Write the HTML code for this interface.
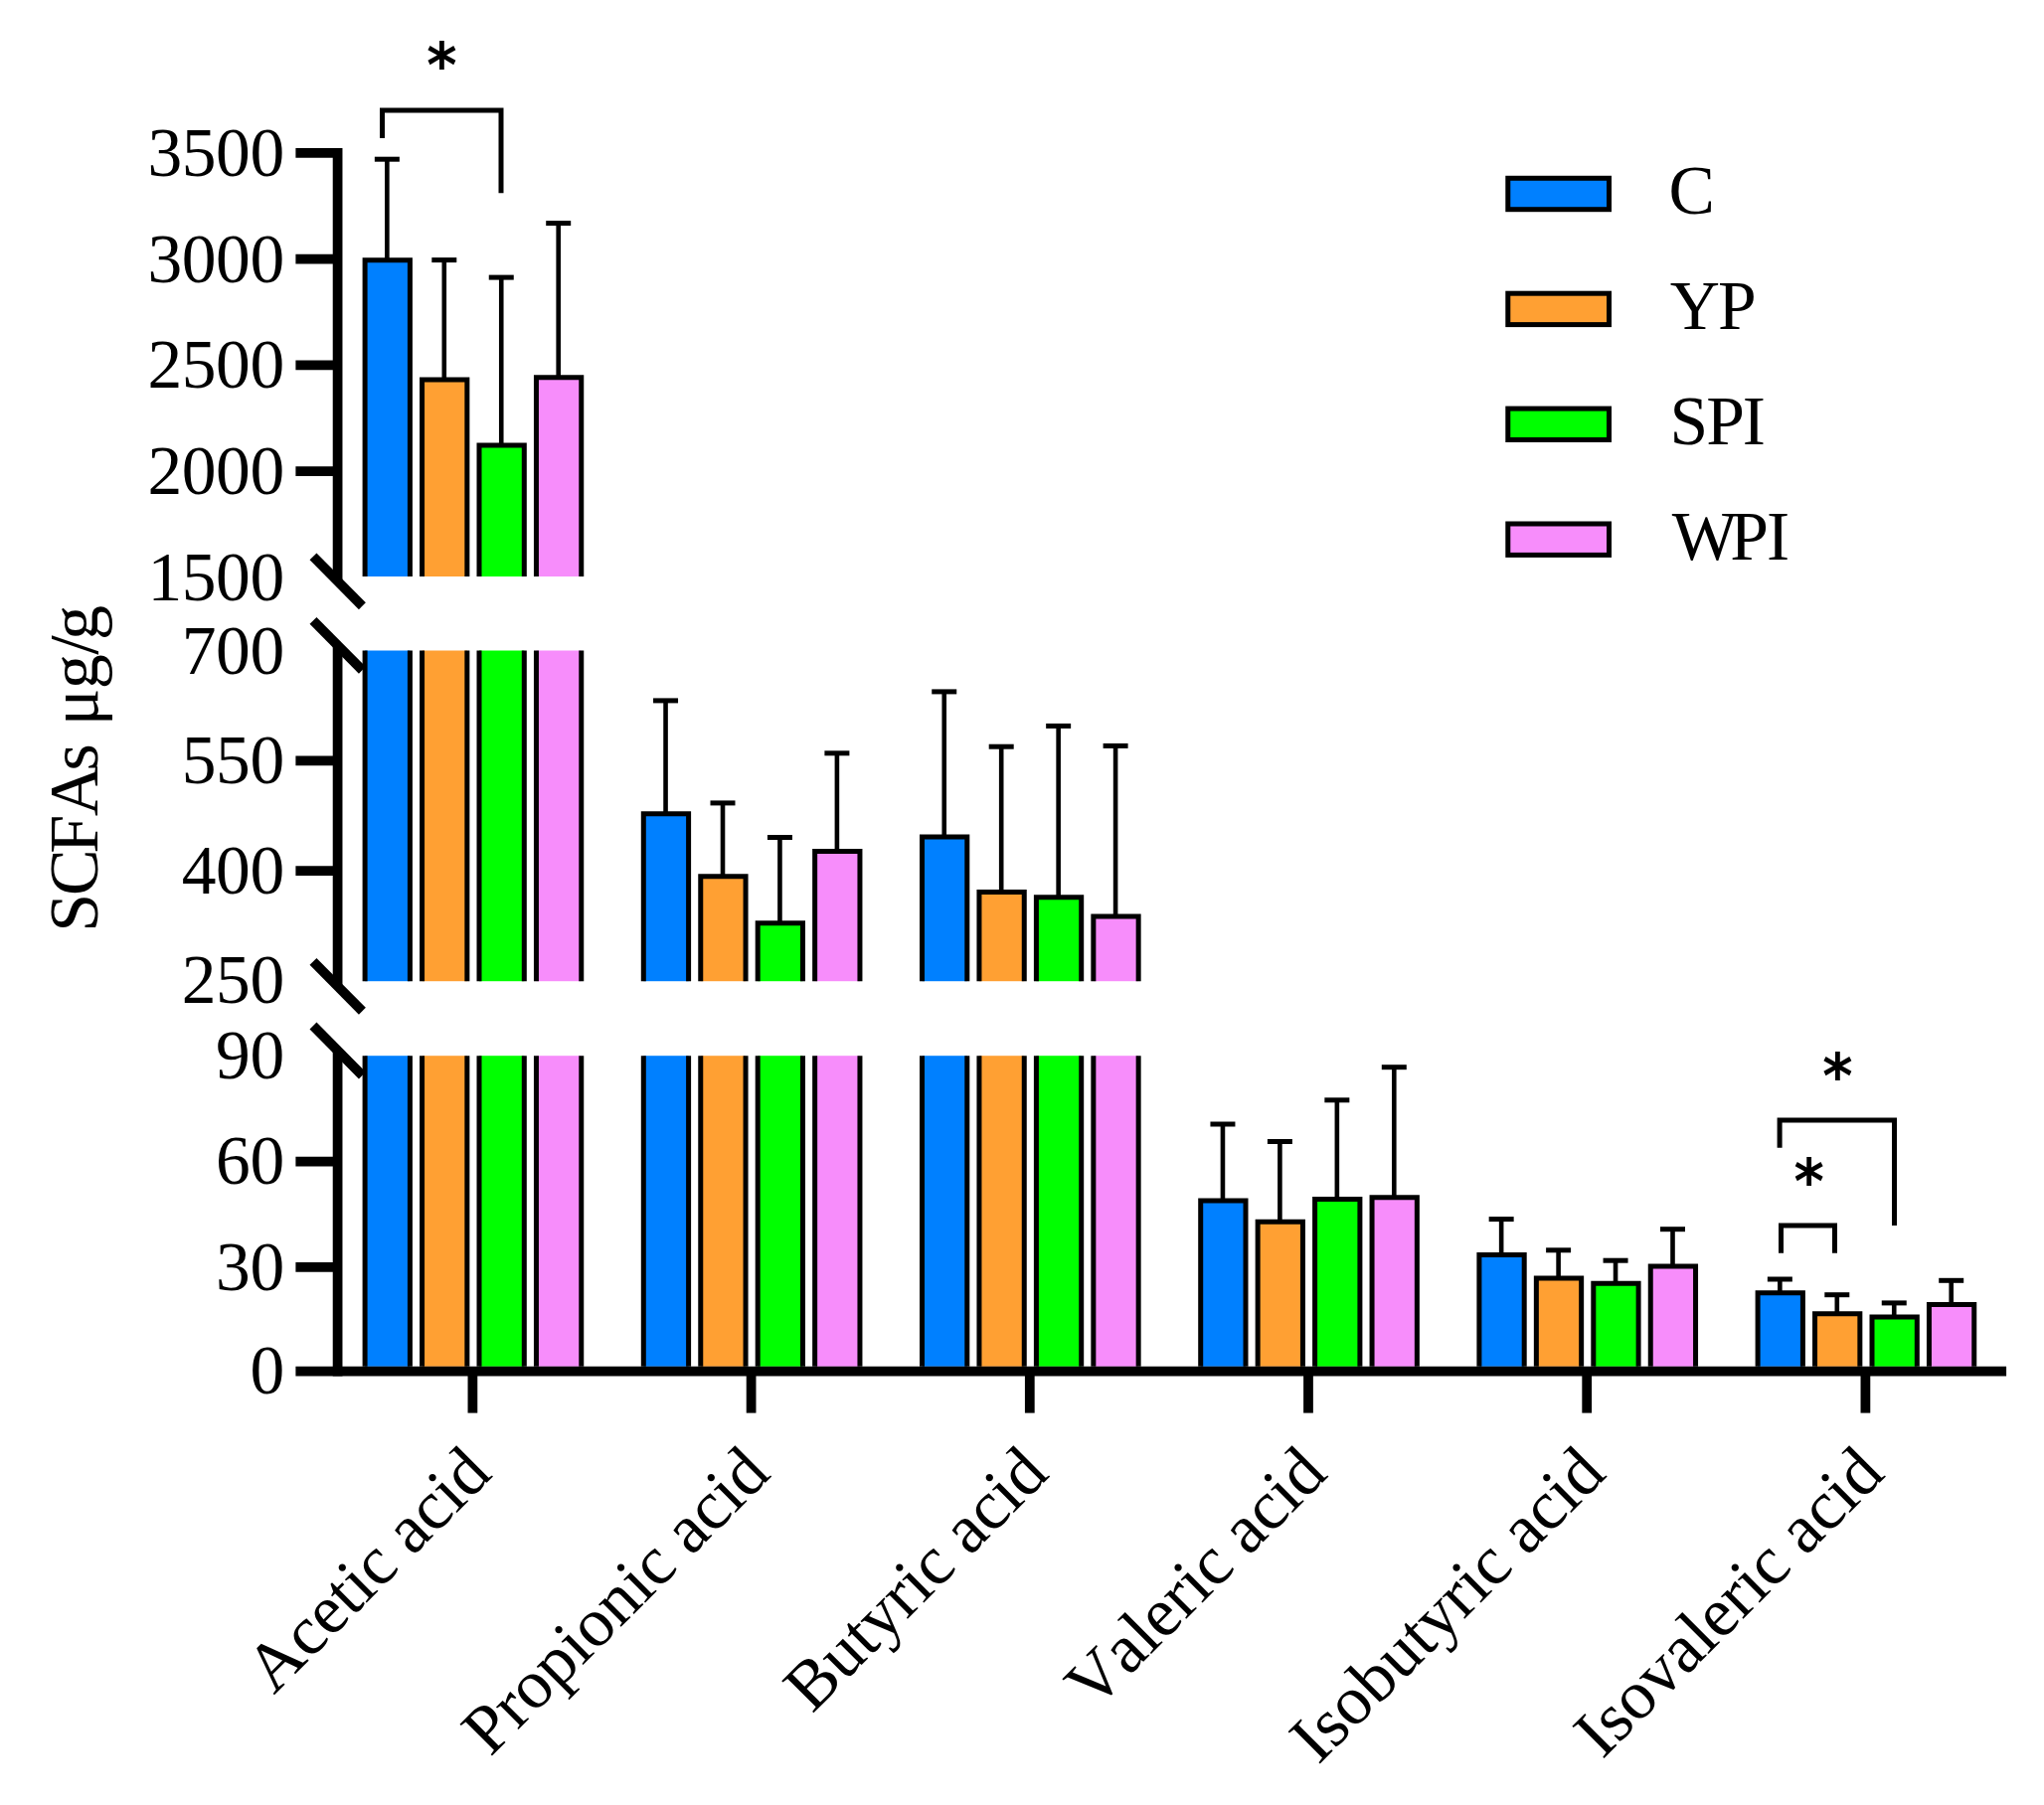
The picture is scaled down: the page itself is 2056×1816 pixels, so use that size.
<!DOCTYPE html>
<html lang="en"><head><meta charset="utf-8"><title>SCFAs chart</title>
<style>
html,body{margin:0;padding:0;background:#fff}
body{width:2056px;height:1816px;overflow:hidden}
svg{display:block}
text{white-space:pre;font-kerning:none;font-variant-ligatures:none}
</style></head><body>
<svg width="2056" height="1816" viewBox="0 0 2056 1816">
<rect width="2056" height="1816" fill="#fff"/>
<g id="bars" stroke="#000" stroke-width="5" stroke-linejoin="miter" fill="none">
<path d="M389.35 160.2 V261.7" stroke-width="4.6"/>
<path d="M376.85 160.2 H401.85" stroke-width="5"/>
<rect x="367.1" y="261.7" width="45.3" height="318.3" fill="#0080ff" stroke="none"/>
<path d="M367.1 580 V261.7 H412.4 V580"/>
<rect x="367.1" y="654.5" width="45.3" height="332.7" fill="#0080ff" stroke="none"/>
<path d="M367.1 654.5 V987.2 M412.4 654.5 V987.2"/>
<rect x="367.1" y="1062.2" width="45.3" height="312.6" fill="#0080ff" stroke="none"/>
<path d="M367.1 1062.2 V1374.8 M412.4 1062.2 V1374.8"/>
<path d="M446.8 261.6 V382.1" stroke-width="4.6"/>
<path d="M434.3 261.6 H459.3" stroke-width="5"/>
<rect x="424.55" y="382.1" width="45.3" height="197.9" fill="#ffa033" stroke="none"/>
<path d="M424.55 580 V382.1 H469.85 V580"/>
<rect x="424.55" y="654.5" width="45.3" height="332.7" fill="#ffa033" stroke="none"/>
<path d="M424.55 654.5 V987.2 M469.85 654.5 V987.2"/>
<rect x="424.55" y="1062.2" width="45.3" height="312.6" fill="#ffa033" stroke="none"/>
<path d="M424.55 1062.2 V1374.8 M469.85 1062.2 V1374.8"/>
<path d="M504.25 279.1 V448" stroke-width="4.6"/>
<path d="M491.75 279.1 H516.75" stroke-width="5"/>
<rect x="482" y="448" width="45.3" height="132" fill="#00ff00" stroke="none"/>
<path d="M482 580 V448 H527.3 V580"/>
<rect x="482" y="654.5" width="45.3" height="332.7" fill="#00ff00" stroke="none"/>
<path d="M482 654.5 V987.2 M527.3 654.5 V987.2"/>
<rect x="482" y="1062.2" width="45.3" height="312.6" fill="#00ff00" stroke="none"/>
<path d="M482 1062.2 V1374.8 M527.3 1062.2 V1374.8"/>
<path d="M561.7 224.6 V379.7" stroke-width="4.6"/>
<path d="M549.2 224.6 H574.2" stroke-width="5"/>
<rect x="539.45" y="379.7" width="45.3" height="200.3" fill="#f78dfb" stroke="none"/>
<path d="M539.45 580 V379.7 H584.75 V580"/>
<rect x="539.45" y="654.5" width="45.3" height="332.7" fill="#f78dfb" stroke="none"/>
<path d="M539.45 654.5 V987.2 M584.75 654.5 V987.2"/>
<rect x="539.45" y="1062.2" width="45.3" height="312.6" fill="#f78dfb" stroke="none"/>
<path d="M539.45 1062.2 V1374.8 M584.75 1062.2 V1374.8"/>
<path d="M669.55 704.9 V818.7" stroke-width="4.6"/>
<path d="M657.05 704.9 H682.05" stroke-width="5"/>
<rect x="647.3" y="818.7" width="45.3" height="168.5" fill="#0080ff" stroke="none"/>
<path d="M647.3 987.2 V818.7 H692.6 V987.2"/>
<rect x="647.3" y="1062.2" width="45.3" height="312.6" fill="#0080ff" stroke="none"/>
<path d="M647.3 1062.2 V1374.8 M692.6 1062.2 V1374.8"/>
<path d="M727 807.9 V881.7" stroke-width="4.6"/>
<path d="M714.5 807.9 H739.5" stroke-width="5"/>
<rect x="704.75" y="881.7" width="45.3" height="105.5" fill="#ffa033" stroke="none"/>
<path d="M704.75 987.2 V881.7 H750.05 V987.2"/>
<rect x="704.75" y="1062.2" width="45.3" height="312.6" fill="#ffa033" stroke="none"/>
<path d="M704.75 1062.2 V1374.8 M750.05 1062.2 V1374.8"/>
<path d="M784.45 842.5 V928.8" stroke-width="4.6"/>
<path d="M771.95 842.5 H796.95" stroke-width="5"/>
<rect x="762.2" y="928.8" width="45.3" height="58.4" fill="#00ff00" stroke="none"/>
<path d="M762.2 987.2 V928.8 H807.5 V987.2"/>
<rect x="762.2" y="1062.2" width="45.3" height="312.6" fill="#00ff00" stroke="none"/>
<path d="M762.2 1062.2 V1374.8 M807.5 1062.2 V1374.8"/>
<path d="M841.9 757.8 V856.5" stroke-width="4.6"/>
<path d="M829.4 757.8 H854.4" stroke-width="5"/>
<rect x="819.65" y="856.5" width="45.3" height="130.7" fill="#f78dfb" stroke="none"/>
<path d="M819.65 987.2 V856.5 H864.95 V987.2"/>
<rect x="819.65" y="1062.2" width="45.3" height="312.6" fill="#f78dfb" stroke="none"/>
<path d="M819.65 1062.2 V1374.8 M864.95 1062.2 V1374.8"/>
<path d="M949.75 695.9 V842" stroke-width="4.6"/>
<path d="M937.25 695.9 H962.25" stroke-width="5"/>
<rect x="927.5" y="842" width="45.3" height="145.2" fill="#0080ff" stroke="none"/>
<path d="M927.5 987.2 V842 H972.8 V987.2"/>
<rect x="927.5" y="1062.2" width="45.3" height="312.6" fill="#0080ff" stroke="none"/>
<path d="M927.5 1062.2 V1374.8 M972.8 1062.2 V1374.8"/>
<path d="M1007.2 751.2 V897.5" stroke-width="4.6"/>
<path d="M994.7 751.2 H1019.7" stroke-width="5"/>
<rect x="984.95" y="897.5" width="45.3" height="89.7" fill="#ffa033" stroke="none"/>
<path d="M984.95 987.2 V897.5 H1030.25 V987.2"/>
<rect x="984.95" y="1062.2" width="45.3" height="312.6" fill="#ffa033" stroke="none"/>
<path d="M984.95 1062.2 V1374.8 M1030.25 1062.2 V1374.8"/>
<path d="M1064.65 730.4 V902.8" stroke-width="4.6"/>
<path d="M1052.15 730.4 H1077.15" stroke-width="5"/>
<rect x="1042.4" y="902.8" width="45.3" height="84.4" fill="#00ff00" stroke="none"/>
<path d="M1042.4 987.2 V902.8 H1087.7 V987.2"/>
<rect x="1042.4" y="1062.2" width="45.3" height="312.6" fill="#00ff00" stroke="none"/>
<path d="M1042.4 1062.2 V1374.8 M1087.7 1062.2 V1374.8"/>
<path d="M1122.1 750.4 V922" stroke-width="4.6"/>
<path d="M1109.6 750.4 H1134.6" stroke-width="5"/>
<rect x="1099.85" y="922" width="45.3" height="65.2" fill="#f78dfb" stroke="none"/>
<path d="M1099.85 987.2 V922 H1145.15 V987.2"/>
<rect x="1099.85" y="1062.2" width="45.3" height="312.6" fill="#f78dfb" stroke="none"/>
<path d="M1099.85 1062.2 V1374.8 M1145.15 1062.2 V1374.8"/>
<path d="M1229.95 1131 V1208" stroke-width="4.6"/>
<path d="M1217.45 1131 H1242.45" stroke-width="5"/>
<rect x="1207.7" y="1208" width="45.3" height="166.8" fill="#0080ff" stroke="none"/>
<path d="M1207.7 1374.8 V1208 H1253 V1374.8"/>
<path d="M1287.4 1148.5 V1229.3" stroke-width="4.6"/>
<path d="M1274.9 1148.5 H1299.9" stroke-width="5"/>
<rect x="1265.15" y="1229.3" width="45.3" height="145.5" fill="#ffa033" stroke="none"/>
<path d="M1265.15 1374.8 V1229.3 H1310.45 V1374.8"/>
<path d="M1344.85 1106.8 V1206.6" stroke-width="4.6"/>
<path d="M1332.35 1106.8 H1357.35" stroke-width="5"/>
<rect x="1322.6" y="1206.6" width="45.3" height="168.2" fill="#00ff00" stroke="none"/>
<path d="M1322.6 1374.8 V1206.6 H1367.9 V1374.8"/>
<path d="M1402.3 1073.7 V1204.7" stroke-width="4.6"/>
<path d="M1389.8 1073.7 H1414.8" stroke-width="5"/>
<rect x="1380.05" y="1204.7" width="45.3" height="170.1" fill="#f78dfb" stroke="none"/>
<path d="M1380.05 1374.8 V1204.7 H1425.35 V1374.8"/>
<path d="M1510.15 1226.6 V1262.5" stroke-width="4.6"/>
<path d="M1497.65 1226.6 H1522.65" stroke-width="5"/>
<rect x="1487.9" y="1262.5" width="45.3" height="112.3" fill="#0080ff" stroke="none"/>
<path d="M1487.9 1374.8 V1262.5 H1533.2 V1374.8"/>
<path d="M1567.6 1257.8 V1286.1" stroke-width="4.6"/>
<path d="M1555.1 1257.8 H1580.1" stroke-width="5"/>
<rect x="1545.35" y="1286.1" width="45.3" height="88.7" fill="#ffa033" stroke="none"/>
<path d="M1545.35 1374.8 V1286.1 H1590.65 V1374.8"/>
<path d="M1625.05 1268.2 V1291.3" stroke-width="4.6"/>
<path d="M1612.55 1268.2 H1637.55" stroke-width="5"/>
<rect x="1602.8" y="1291.3" width="45.3" height="83.5" fill="#00ff00" stroke="none"/>
<path d="M1602.8 1374.8 V1291.3 H1648.1 V1374.8"/>
<path d="M1682.5 1236.7 V1274" stroke-width="4.6"/>
<path d="M1670 1236.7 H1695" stroke-width="5"/>
<rect x="1660.25" y="1274" width="45.3" height="100.8" fill="#f78dfb" stroke="none"/>
<path d="M1660.25 1374.8 V1274 H1705.55 V1374.8"/>
<path d="M1790.35 1287 V1300.8" stroke-width="4.6"/>
<path d="M1777.85 1287 H1802.85" stroke-width="5"/>
<rect x="1768.1" y="1300.8" width="45.3" height="74" fill="#0080ff" stroke="none"/>
<path d="M1768.1 1374.8 V1300.8 H1813.4 V1374.8"/>
<path d="M1847.8 1302.7 V1321.8" stroke-width="4.6"/>
<path d="M1835.3 1302.7 H1860.3" stroke-width="5"/>
<rect x="1825.55" y="1321.8" width="45.3" height="53" fill="#ffa033" stroke="none"/>
<path d="M1825.55 1374.8 V1321.8 H1870.85 V1374.8"/>
<path d="M1905.25 1310.9 V1325.1" stroke-width="4.6"/>
<path d="M1892.75 1310.9 H1917.75" stroke-width="5"/>
<rect x="1883" y="1325.1" width="45.3" height="49.7" fill="#00ff00" stroke="none"/>
<path d="M1883 1374.8 V1325.1 H1928.3 V1374.8"/>
<path d="M1962.7 1288.3 V1312.5" stroke-width="4.6"/>
<path d="M1950.2 1288.3 H1975.2" stroke-width="5"/>
<rect x="1940.45" y="1312.5" width="45.3" height="62.3" fill="#f78dfb" stroke="none"/>
<path d="M1940.45 1374.8 V1312.5 H1985.75 V1374.8"/>
</g>
<g id="axes" stroke="#000" stroke-width="9.75" fill="none" stroke-linecap="butt">
<path d="M339.6 149.03 V584.85"/>
<path d="M339.6 649.35 V992.35"/>
<path d="M339.6 1057 V1384.38"/>
<path d="M297.4 153.9 H339.6"/>
<path d="M297.4 260.7 H339.6"/>
<path d="M297.4 367.4 H339.6"/>
<path d="M297.4 474.1 H339.6"/>
<path d="M297.4 765.4 H339.6"/>
<path d="M297.4 876 H339.6"/>
<path d="M297.4 1168.5 H339.6"/>
<path d="M297.4 1274.8 H339.6"/>
<path d="M297.4 1379.5 H2018.1"/>
<path d="M475.4 1379.5 V1421.6"/>
<path d="M755.6 1379.5 V1421.6"/>
<path d="M1035.8 1379.5 V1421.6"/>
<path d="M1316 1379.5 V1421.6"/>
<path d="M1596.2 1379.5 V1421.6"/>
<path d="M1876.4 1379.5 V1421.6"/>
<path d="M315 559.9 L364.4 609.8"/>
<path d="M315 624.4 L364.4 674.3"/>
<path d="M315 967.4 L364.4 1017.3"/>
<path d="M315 1032.05 L364.4 1081.95"/>
</g>
<g id="brackets" stroke="#000" stroke-width="5" fill="none" stroke-linejoin="miter">
<path d="M384.5 138.9 V111 H504 V194.3"/>
<path d="M1790.1 1154.8 V1127 H1905.5 V1232.9"/>
<path d="M1791.5 1260.8 V1233 H1845.5 V1260.8"/>
</g>
<g id="ylabels" font-family="'Liberation Serif', 'Times New Roman', serif" font-size="69.5" fill="#000" text-anchor="end">
<text x="285.8" y="176.7" letter-spacing="-0.4">3500</text>
<text x="285.8" y="283.5" letter-spacing="-0.4">3000</text>
<text x="285.8" y="390.2" letter-spacing="-0.4">2500</text>
<text x="285.8" y="496.9" letter-spacing="-0.4">2000</text>
<text x="285.8" y="603.6" letter-spacing="-0.4">1500</text>
<text x="285.8" y="677.6" letter-spacing="-0.4">700</text>
<text x="285.8" y="788.2" letter-spacing="-0.4">550</text>
<text x="285.8" y="898.8" letter-spacing="-0.4">400</text>
<text x="285.8" y="1009.4" letter-spacing="-0.4">250</text>
<text x="285.8" y="1085" letter-spacing="-0.4">90</text>
<text x="285.8" y="1191.3" letter-spacing="-0.4">60</text>
<text x="285.8" y="1297.6" letter-spacing="-0.4">30</text>
<text x="285.8" y="1402.2" letter-spacing="-0.4">0</text>
</g>
<g id="legend" font-family="'Liberation Serif', 'Times New Roman', serif" font-size="69.5" fill="#000">
<rect x="1516.8" y="179.3" width="101.7" height="31.4" fill="#0080ff" stroke="#000" stroke-width="5"/>
<text x="1678.5" y="215.3" letter-spacing="-2">C</text>
<rect x="1516.8" y="295.2" width="101.7" height="31.4" fill="#ffa033" stroke="#000" stroke-width="5"/>
<text x="1679.7" y="331.05" letter-spacing="-2">YP</text>
<rect x="1516.8" y="411.1" width="101.7" height="31.4" fill="#00ff00" stroke="#000" stroke-width="5"/>
<text x="1679.5" y="446.8" letter-spacing="-2">SPI</text>
<rect x="1516.8" y="527" width="101.7" height="31.4" fill="#f78dfb" stroke="#000" stroke-width="5"/>
<text x="1681.7" y="562.55" letter-spacing="-2">W<tspan dx="-5">PI</tspan></text>
</g>
<text id="ytitle" transform="translate(98.1 937.7) rotate(-90)" font-family="'Liberation Serif', 'Times New Roman', serif" font-size="70" fill="#000" x="0 36.7 79 116.5 162.3 190 207.4 244.5 278.9 293.8">SCFAs μg/g</text>
<g id="xlabels" font-family="'Liberation Serif', 'Times New Roman', serif" font-size="69.5" fill="#000" text-anchor="end">
<text transform="translate(496.4 1485) rotate(-45)" letter-spacing="-0.2">Acetic acid</text>
<text transform="translate(776.6 1485) rotate(-45)" letter-spacing="-0.2">Propionic acid</text>
<text transform="translate(1056.8 1485) rotate(-45)" letter-spacing="-0.2">Butyric acid</text>
<text transform="translate(1337 1485) rotate(-45)" letter-spacing="-0.2">Valeric acid</text>
<text transform="translate(1617.2 1485) rotate(-45)" letter-spacing="-0.2">Isobutyric acid</text>
<text transform="translate(1897.4 1485) rotate(-45)" letter-spacing="-0.2">Isovaleric acid</text>
</g>
<g id="stars" font-family="'DejaVu Sans', sans-serif" font-weight="bold" font-size="56" fill="#000" text-anchor="middle">
<text transform="translate(444.4 55.5) scale(1.035 1.115)" x="0" y="28.4">*</text>
<text transform="translate(1848.4 1072.8) scale(1.035 1.115)" x="0" y="28.4">*</text>
<text transform="translate(1819.6 1178.5) scale(1.035 1.115)" x="0" y="28.4">*</text>
</g>
</svg>
</body></html>
